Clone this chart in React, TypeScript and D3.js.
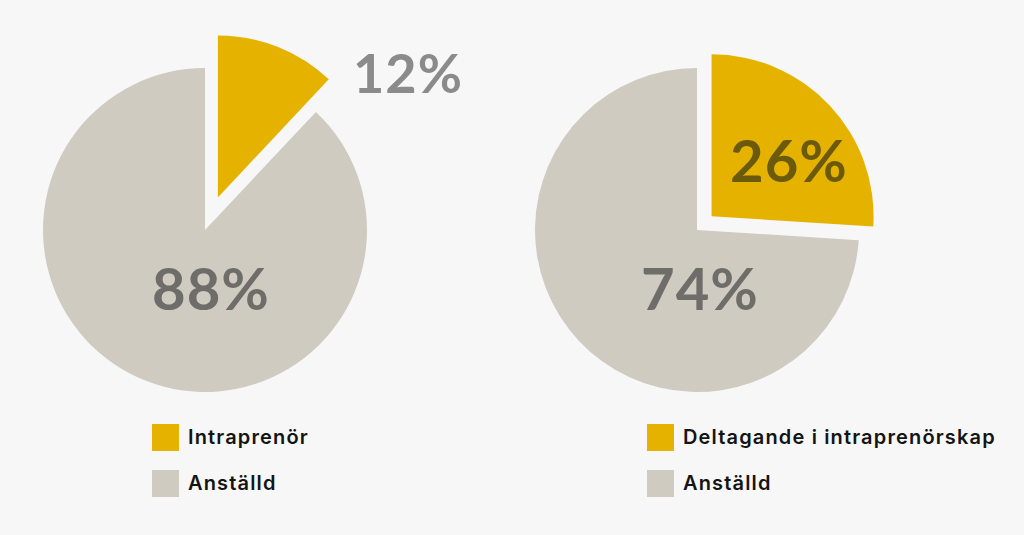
import React from "react";
import * as d3 from "d3";

const leftCategories = ["Intraprenör", "Anställd"];
const leftValues = [12, 88];
const rightCategories = ["Deltagande i intraprenörskap", "Anställd"];
const rightValues = [26, 74];
const colors = ["#e5b200", "#cfcbc1"];

const W = 1024;
const H = 535;

type PieProps = {
  cx: number;
  cy: number;
  values: number[];
  explode: number;
  labelPos: { x: number; y: number; color: string; size: number }[];
};

function Pie({ cx, cy, values, explode, labelPos }: PieProps) {
  const pie = d3.pie<number>().sort(null).value((d) => d);
  const arcs = pie(values);
  const arc = d3.arc<d3.PieArcDatum<number>>().innerRadius(0).outerRadius(162);
  return (
    <g transform={`translate(${cx},${cy})`}>
      {arcs.map((a, i) => {
        const mid = (a.startAngle + a.endAngle) / 2;
        const off = i === 0 ? explode : 0;
        const dx = Math.sin(mid) * off;
        const dy = -Math.cos(mid) * off;
        return (
          <path key={i} d={arc(a) || ""} fill={colors[i]} transform={`translate(${dx},${dy})`} />
        );
      })}
      {arcs.map((a, i) => (
        <text
          key={"t" + i}
          x={labelPos[i].x}
          y={labelPos[i].y}
          textAnchor="middle"
          fontFamily="Lato, 'Open Sans', sans-serif"
          fontWeight={700}
          fontSize={labelPos[i].size}
          fill={labelPos[i].color}
          letterSpacing={1}
        >
          {values[i] + "%"}
        </text>
      ))}
    </g>
  );
}

function Legend({ x, y, cats }: { x: number; y: number; cats: string[] }) {
  return (
    <g transform={`translate(${x},${y})`}>
      {cats.map((c, i) => (
        <g key={i} transform={`translate(0,${i * 46})`}>
          <rect x={0} y={0} width={27} height={27} fill={colors[i]} />
          <text
            x={36}
            y={19.5}
            fontFamily="Inter, Roboto, sans-serif"
            fontWeight={600}
            fontSize={20}
            letterSpacing={1.15}
            fill="#141414"
          >
            {c}
          </text>
        </g>
      ))}
    </g>
  );
}

export default function App() {
  return (
    <svg
      width={W}
      height={H}
      style={{ position: "absolute", left: 0, top: 0, background: "#f7f7f7" }}
    >
      <rect width={W} height={H} fill="#f7f7f7" />
      <Pie
        cx={205}
        cy={230}
        values={leftValues}
        explode={35}
        labelPos={[
          { x: 203, y: -137, color: "#8b8b8b", size: 54 },
          { x: 6, y: 80, color: "#6f6d69", size: 58 },
        ]}
      />
      <Pie
        cx={697}
        cy={230}
        values={rightValues}
        explode={20}
        labelPos={[
          { x: 92, y: -48, color: "#6c5a0c", size: 58 },
          { x: 3, y: 80, color: "#6f6d69", size: 58 },
        ]}
      />
      <Legend x={152} y={424} cats={leftCategories} />
      <Legend x={647} y={424} cats={rightCategories} />
    </svg>
  );
}
